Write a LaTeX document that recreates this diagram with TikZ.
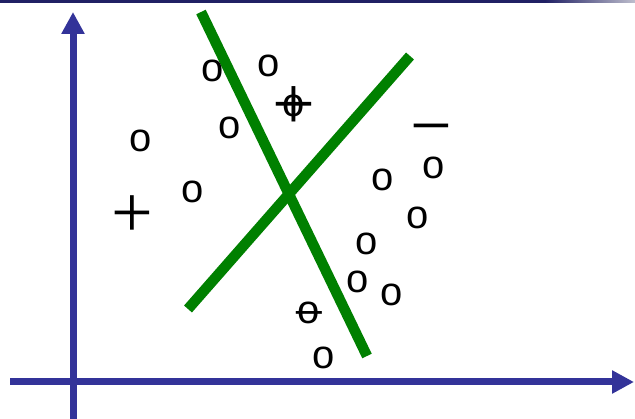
\documentclass[tikz,border=0pt]{standalone}
\usepackage{fontspec}
\setmainfont{Liberation Sans}
\newfontfamily\signfont{Liberation Serif}
\usetikzlibrary{arrows.meta}
\definecolor{axisblue}{RGB}{51,51,153}
\definecolor{topnavy}{RGB}{32,32,100}
\definecolor{topfade}{RGB}{190,190,205}
\definecolor{sepgreen}{RGB}{0,128,0}
\begin{document}
\begin{tikzpicture}[x=1pt,y=-1pt,
  pt/.style={font=\fontsize{40}{40}\selectfont, inner sep=0pt, anchor=center},
  bigsign/.style={font=\signfont\fontsize{74}{74}\selectfont, inner sep=0pt, anchor=base},
  plussign/.style={font=\signfont\fontsize{76}{76}\selectfont, inner sep=0pt, anchor=base},
  smallsign/.style={font=\signfont\fontsize{56}{56}\selectfont, inner sep=0pt, anchor=base},
  axis/.style={draw=axisblue, line width=7pt, -{Triangle[length=22pt,width=22pt]}},
  sep/.style={draw=sepgreen, line width=10.5pt, line cap=butt}]
\useasboundingbox (0,0) rectangle (635,419);
\fill[white] (0,0) rectangle (635,419);
% top rule
\fill[topnavy] (0,0) rectangle (545,2.8);
\shade[left color=topnavy, right color=topfade] (545,0) rectangle (635,2.8);
% axes
\coordinate (ybot) at (73,419);
\coordinate (ytop) at (73,12);
\coordinate (xl) at (10,382);
\coordinate (xr) at (634,382);
\draw[axis] (ybot) -- (ytop);
\draw[axis] (xl) -- (xr);
% separating lines
\coordinate (a1) at (201,12);
\coordinate (a2) at (367,356);
\coordinate (b1) at (188,309);
\coordinate (b2) at (410,56);
\draw[sep] (a1) -- (a2);
\draw[sep] (b1) -- (b2);
% data points
\node[pt] (o1) at (213,71) {o};
\node[pt] (o2) at (269,66) {o};
\node[pt] (o3) at (230,128) {o};
\node[pt] (o4) at (141,141) {o};
\node[pt] (o5) at (193,192) {o};
\node[pt] (o6) at (383,180) {o};
\node[pt] (o7) at (434,168) {o};
\node[pt] (o8) at (418,218) {o};
\node[pt] (o9) at (367,244) {o};
\node[pt] (o10) at (358,282) {o};
\node[pt] (o11) at (392,295) {o};
\node[pt] (o12) at (324,358) {o};
% marked points
\node[pt] (op) at (294,106) {o};
\node[plussign] (opp) at (294,129.5) {+};
\node[pt] (om) at (309,313) {o};
\node[smallsign] (omm) at (309,332) {−};
% class labels
\node[bigsign] (plus) at (132,238) {+};
\node[bigsign] (minus) at (431,151) {−};
\end{tikzpicture}
\end{document}
